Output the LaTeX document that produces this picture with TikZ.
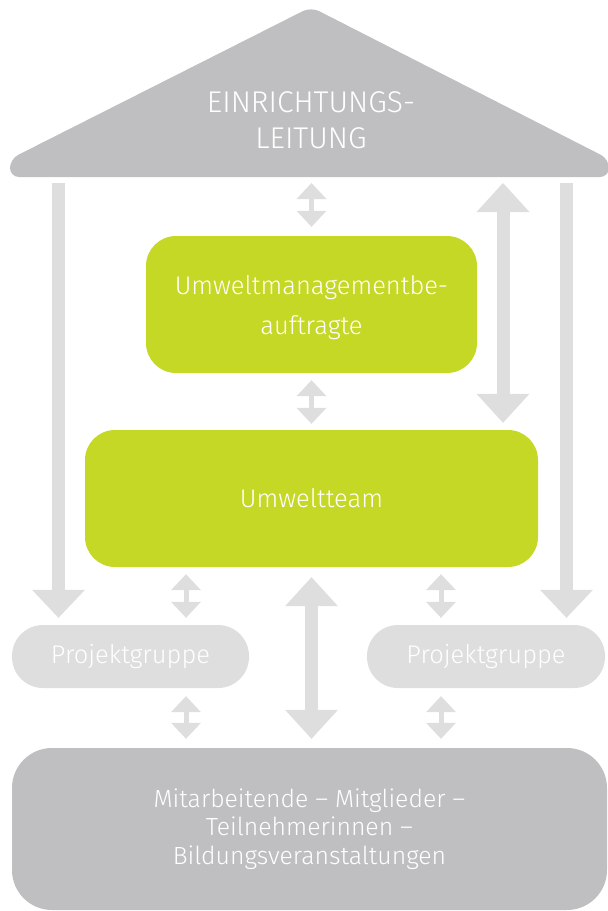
\documentclass[tikz,border=0pt]{standalone}
\usepackage{fontspec}
\setmainfont{Fira Sans Light}
\usetikzlibrary{arrows.meta}
\definecolor{roofgray}{HTML}{BFBFC1}
\definecolor{paleflow}{HTML}{DEDEDE}
\definecolor{leafgreen}{HTML}{C5D826}
\begin{document}
\begin{tikzpicture}[x=1pt,y=-1pt,
  label text/.style={text=white, align=center, inner sep=0pt},
  greenbox/.style={label text, fill=leafgreen, rounded corners=30pt,
    minimum height=137pt, font=\fontsize{25.5}{40}\selectfont},
  groupbox/.style={label text, fill=paleflow, rounded corners=31pt,
    minimum height=63pt, font=\fontsize{25.5}{33}\selectfont},
  basebox/.style={label text, fill=roofgray, rounded corners=40pt,
    minimum width=595pt, minimum height=162pt, font=\fontsize{24.8}{28.5}\selectfont},
  smallflow/.style={draw=paleflow, line width=5pt,
    {Triangle[length=16pt,width=30pt,line width=0pt]}-{Triangle[length=16pt,width=30pt,line width=0pt]}},
  bigflow/.style={draw=paleflow, line width=13pt,
    {Triangle[length=29pt,width=53pt,line width=0pt]}-{Triangle[length=29pt,width=53pt,line width=0pt]}},
  downflow/.style={draw=paleflow, line width=13pt,
    -{Triangle[length=28pt,width=53pt,line width=0pt]}},
]
\useasboundingbox (0,0) rectangle (608,911);

% roof
\fill[roofgray, rounded corners=9pt] (10,177) -- (10,159) -- (311,7) -- (609,159) -- (609,177) -- cycle;
\node[label text, font=\fontsize{30}{36}\selectfont] (roof) at (311,120) {EINRICHTUNGS-\\LEITUNG};
\coordinate (eaves) at (0,177);

% boxes
\node[greenbox, minimum width=331pt] (umb) at (311.5,304.5) {};
\node[label text, font=\fontsize{25.5}{40}\selectfont] (umbtext) at (311.5,308) {Umweltmanagementbe-\\auftragte};
\node[greenbox, minimum width=453pt] (team) at (311.5,498.5) {Umweltteam};
\node[groupbox, minimum width=237pt] (pg1) at (130.5,656.5) {Projektgruppe};
\node[groupbox, minimum width=238pt] (pg2) at (486,656.5) {Projektgruppe};
\node[basebox] (base) at (309.5,829) {Mitarbeitende – Mitglieder –\\Teilnehmerinnen –\\Bildungsveranstaltungen};

% arrow columns
\coordinate (colL) at (58.5,0);
\coordinate (colA) at (186,0);
\coordinate (colD) at (441,0);
\coordinate (colB) at (503,0);
\coordinate (colR) at (566.5,0);

% connectors
\draw[smallflow, shorten <=6pt, shorten >=9pt] (eaves -| umb.north) -- (umb.north);
\draw[smallflow, shorten <=7pt, shorten >=6pt] (umb.south) -- (team.north);
\draw[smallflow, shorten <=7pt, shorten >=7pt] (team.south -| colA) -- (pg1.north -| colA);
\draw[smallflow, shorten <=7pt, shorten >=7pt] (team.south -| colD) -- (pg2.north -| colD);
\draw[smallflow, shorten <=8pt, shorten >=9pt] (pg1.south -| colA) -- (base.north -| colA);
\draw[smallflow, shorten <=8pt, shorten >=9pt] (pg2.south -| colD) -- (base.north -| colD);
\draw[bigflow, shorten <=6pt, shorten >=7pt] (eaves -| colB) -- (team.north -| colB);
\draw[bigflow, shorten <=10pt, shorten >=9pt] (team.south) -- (base.north -| team.south);
\draw[downflow, shorten <=6pt, shorten >=7pt] (eaves -| colL) -- (pg1.north -| colL);
\draw[downflow, shorten <=6pt, shorten >=7pt] (eaves -| colR) -- (pg2.north -| colR);
\end{tikzpicture}
\end{document}
